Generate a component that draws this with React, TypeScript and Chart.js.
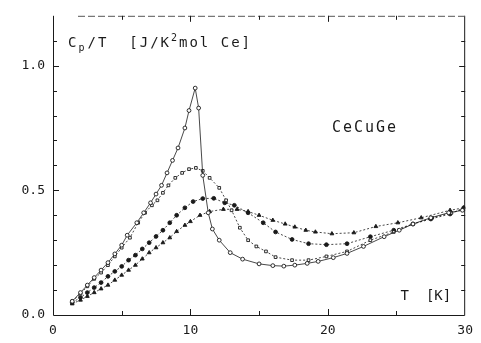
import React, { useEffect, useRef } from "react";
import { Chart, registerables } from "chart.js";

Chart.register(...registerables);

// Curve 1: sharpest peak (open circles)
const t1 = [1.4, 2.0, 2.5, 3.0, 3.5, 4.0, 4.5, 5.0, 5.4, 6.1, 6.6, 7.1, 7.5, 7.9, 8.3, 8.7, 9.1, 9.6, 9.9, 10.35, 10.6, 10.9, 11.3, 11.6, 12.1, 12.9, 13.8, 15.0, 16.0, 16.8, 17.6, 18.5, 19.3, 20.4, 21.4, 22.6, 24.1, 25.2, 26.2, 27.5, 28.8, 29.8];
const v1 = [0.055, 0.09, 0.12, 0.15, 0.18, 0.21, 0.245, 0.28, 0.32, 0.37, 0.41, 0.45, 0.485, 0.52, 0.57, 0.62, 0.67, 0.75, 0.82, 0.91, 0.83, 0.56, 0.41, 0.345, 0.3, 0.25, 0.224, 0.205, 0.198, 0.196, 0.2, 0.207, 0.215, 0.23, 0.247, 0.275, 0.314, 0.34, 0.365, 0.39, 0.41, 0.42];

// Curve 2: second peak (open squares)
const t2 = [1.4, 2.0, 2.5, 3.0, 3.5, 4.0, 4.5, 5.0, 5.6, 6.2, 6.7, 7.2, 7.6, 8.0, 8.4, 8.9, 9.4, 9.9, 10.4, 10.9, 11.4, 12.1, 12.6, 13.0, 13.6, 14.2, 14.8, 15.5, 16.2, 17.4, 18.6, 19.9, 21.4, 23.1, 24.8, 26.2, 27.6, 29.0, 30.0];
const v2 = [0.055, 0.085, 0.115, 0.145, 0.17, 0.2, 0.235, 0.27, 0.31, 0.37, 0.41, 0.44, 0.46, 0.49, 0.52, 0.55, 0.57, 0.585, 0.59, 0.578, 0.55, 0.51, 0.46, 0.42, 0.35, 0.3, 0.275, 0.255, 0.232, 0.22, 0.22, 0.235, 0.255, 0.3, 0.333, 0.365, 0.39, 0.41, 0.425];

// Curve 3: third peak (filled circles)
const t3 = [1.4, 2.0, 2.5, 3.0, 3.5, 4.0, 4.5, 5.0, 5.5, 6.0, 6.5, 7.0, 7.5, 8.0, 8.5, 9.0, 9.6, 10.2, 10.9, 11.7, 12.5, 13.2, 14.2, 15.3, 16.2, 17.4, 18.6, 19.9, 21.4, 23.1, 24.8, 26.2, 27.5, 28.9, 29.9];
const v3 = [0.05, 0.07, 0.09, 0.11, 0.13, 0.155, 0.175, 0.195, 0.22, 0.24, 0.265, 0.29, 0.315, 0.34, 0.37, 0.4, 0.43, 0.455, 0.467, 0.468, 0.45, 0.44, 0.41, 0.37, 0.333, 0.303, 0.286, 0.282, 0.286, 0.314, 0.34, 0.365, 0.385, 0.405, 0.43];

// Curve 4: lowest peak (triangles)
const t4 = [1.4, 2.0, 2.5, 3.0, 3.5, 4.0, 4.5, 5.0, 5.5, 6.0, 6.5, 7.0, 7.5, 8.0, 8.5, 9.0, 9.6, 10.0, 10.7, 11.4, 12.4, 13.4, 14.2, 15.0, 16.0, 16.9, 17.6, 18.4, 19.1, 20.3, 21.9, 23.5, 25.1, 26.8, 28.9, 29.9];
const v4 = [0.045, 0.06, 0.075, 0.09, 0.105, 0.12, 0.14, 0.16, 0.18, 0.2, 0.225, 0.25, 0.27, 0.29, 0.31, 0.335, 0.36, 0.375, 0.4, 0.415, 0.424, 0.424, 0.415, 0.4, 0.38, 0.365, 0.353, 0.34, 0.333, 0.326, 0.33, 0.355, 0.37, 0.39, 0.42, 0.43];

const xTickValues = [0, 10, 20, 30];
const yTickValues = [0, 0.5, 1.0];
const xMinorTicks = [5, 10, 15, 20, 25];
const yMinorTicks = [0.1, 0.2, 0.3, 0.4, 0.5, 0.6, 0.7, 0.8, 0.9, 1.0, 1.1];

const ink = "#1a1a1a";

function pts(t: number[], v: number[]) {
  return t.map((x, i) => ({ x, y: v[i] }));
}

const framePlugin = {
  id: "frame",
  afterDraw(chart: any) {
    const { ctx, chartArea: a, scales } = chart;
    const xs = scales.x;
    const ys = scales.y;
    ctx.save();
    ctx.strokeStyle = ink;
    ctx.lineWidth = 1;
    ctx.beginPath();
    ctx.moveTo(a.left + 0.5, a.top);
    ctx.lineTo(a.left + 0.5, a.bottom + 0.5);
    ctx.lineTo(a.right - 0.5, a.bottom + 0.5);
    ctx.lineTo(a.right - 0.5, a.top);
    ctx.stroke();
    ctx.strokeStyle = "#555";
    ctx.setLineDash([7, 3]);
    ctx.beginPath();
    ctx.moveTo(a.left + 25, a.top + 0.5);
    ctx.lineTo(a.right, a.top + 0.5);
    ctx.stroke();
    ctx.setLineDash([]);
    ctx.strokeStyle = ink;
    ctx.beginPath();
    for (const v of yMinorTicks) {
      const y = Math.round(ys.getPixelForValue(v)) + 0.5;
      const len = Math.abs(v * 10 - Math.round(v * 2) * 5) < 0.01 ? 6 : 4;
      ctx.moveTo(a.left, y);
      ctx.lineTo(a.left + len, y);
      ctx.moveTo(a.right, y);
      ctx.lineTo(a.right - len, y);
    }
    for (const v of xMinorTicks) {
      const x = Math.round(xs.getPixelForValue(v)) + 0.5;
      const len = v % 10 === 0 ? 6 : 4;
      ctx.moveTo(x, a.bottom);
      ctx.lineTo(x, a.bottom - len);
      ctx.moveTo(x, a.top);
      ctx.lineTo(x, a.top + len);
    }
    ctx.stroke();

    ctx.fillStyle = ink;
    ctx.textBaseline = "alphabetic";
    ctx.textAlign = "left";
    try {
      ctx.letterSpacing = "2px";
    } catch (e) {}
    let x = xs.getPixelForValue(1.1);
    const yb = ys.getPixelForValue(1.075);
    const big = "14px 'DejaVu Sans Mono'";
    const small = "10px 'DejaVu Sans Mono'";
    ctx.font = big;
    ctx.fillText("C", x, yb);
    x += ctx.measureText("C").width;
    ctx.font = small;
    ctx.fillText("p", x, yb + 4);
    x += ctx.measureText("p").width + 1;
    ctx.font = big;
    ctx.fillText("/T  [J/K", x, yb);
    x += ctx.measureText("/T  [J/K").width;
    ctx.font = small;
    ctx.fillText("2", x, yb - 6);
    x += ctx.measureText("2").width;
    ctx.font = big;
    ctx.fillText("mol Ce]", x, yb);

    ctx.font = "15px 'DejaVu Sans Mono'";
    ctx.fillText("CeCuGe", xs.getPixelForValue(20.3), ys.getPixelForValue(0.735));
    try {
      ctx.letterSpacing = "0px";
    } catch (e) {}
    ctx.font = "14px 'DejaVu Sans Mono'";
    ctx.fillText("T  [K]", xs.getPixelForValue(25.3), ys.getPixelForValue(0.06));
    ctx.restore();
  },
};

export default function App() {
  const ref = useRef<HTMLCanvasElement | null>(null);
  useEffect(() => {
    if (!ref.current) return;
    const common = {
      showLine: true,
      borderColor: ink,
      borderWidth: 0.8,
      borderDash: [2, 2],
      pointBorderColor: ink,
      pointBorderWidth: 0.9,
      pointRadius: 1.9,
    };
    const chart = new Chart(ref.current, {
      type: "scatter",
      data: {
        datasets: [
          { ...common, data: pts(t1, v1), pointStyle: "circle", pointBackgroundColor: "#fff", borderDash: [] },
          { ...common, data: pts(t2, v2), pointStyle: "rect", pointBackgroundColor: "#fff" },
          { ...common, data: pts(t3, v3), pointStyle: "circle", pointBackgroundColor: ink },
          { ...common, data: pts(t4, v4), pointStyle: "triangle", pointBackgroundColor: ink, pointRadius: 2.2 },
        ],
      },
      options: {
        animation: false,
        responsive: false,
        devicePixelRatio: 1,
        layout: { padding: { top: 10, right: 9, left: 0, bottom: 0 } },
        plugins: { legend: { display: false }, tooltip: { enabled: false } },
        scales: {
          x: {
            type: "linear",
            min: 0,
            max: 30,
            afterBuildTicks: (s: any) => {
              s.ticks = xTickValues.map((value) => ({ value }));
            },
            afterFit: (s: any) => {
              s.height = 28;
            },
            grid: { display: false, drawTicks: false },
            border: { display: false },
            ticks: {
              padding: 8,
              color: ink,
              font: { family: "'DejaVu Sans Mono'", size: 13 },
              callback: (v: any) => String(v),
            },
          },
          y: {
            type: "linear",
            min: 0,
            max: 1.2,
            afterBuildTicks: (s: any) => {
              s.ticks = yTickValues.map((value) => ({ value }));
            },
            afterFit: (s: any) => {
              s.width = 53;
            },
            grid: { display: false, drawTicks: false },
            border: { display: false },
            ticks: {
              padding: 8,
              color: ink,
              font: { family: "'DejaVu Sans Mono'", size: 13 },
              callback: (v: any) => Number(v).toFixed(1),
            },
          },
        },
      },
      plugins: [framePlugin],
    } as any);
    return () => chart.destroy();
  }, []);
  return (
    <div style={{ position: "absolute", left: 0, top: 0, width: 481, height: 343, background: "#fff" }}>
      <canvas ref={ref} width={481} height={343} />
    </div>
  );
}
